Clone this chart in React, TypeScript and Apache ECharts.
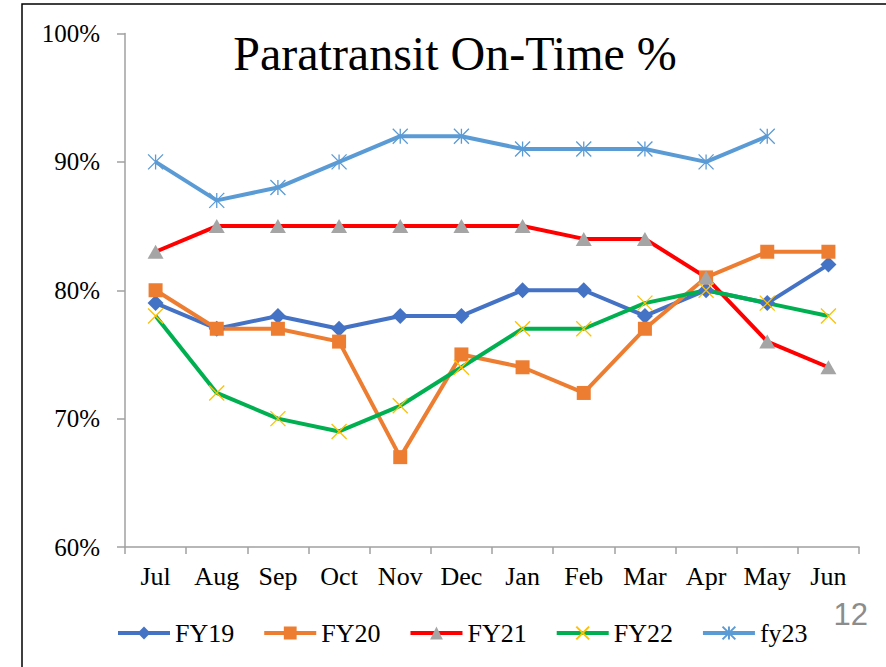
import React, { useEffect, useRef } from "react";
import * as echarts from "echarts";

const months = ["Jul", "Aug", "Sep", "Oct", "Nov", "Dec", "Jan", "Feb", "Mar", "Apr", "May", "Jun"];
const fy19 = [79, 77, 78, 77, 78, 78, 80, 80, 78, 80, 79, 82];
const fy20 = [80, 77, 77, 76, 67, 75, 74, 72, 77, 81, 83, 83];
const fy21 = [83, 85, 85, 85, 85, 85, 85, 84, 84, 81, 76, 74];
const fy22 = [78, 72, 70, 69, 71, 74, 77, 77, 79, 80, 79, 78];
const fy23: (number | null)[] = [90, 87, 88, 90, 92, 92, 91, 91, 91, 90, 92, null];
const yTicks = { min: 60, max: 100, interval: 10 };

const SERIF = "Liberation Serif";

export default function App() {
  const ref = useRef<HTMLDivElement>(null);
  useEffect(() => {
    if (!ref.current) return;
    const chart = echarts.init(ref.current, null, { renderer: "svg" });
    const lw = 4;
    chart.setOption({
      animation: false,
      backgroundColor: "#fff",
      grid: { left: 125, right: 27, top: 33.5, bottom: 120 },
      xAxis: {
        type: "category",
        data: months,
        boundaryGap: true,
        axisLine: { lineStyle: { color: "#a0a0a0", width: 1.5 } },
        axisTick: { show: true, length: 7, lineStyle: { color: "#a0a0a0", width: 1.5 } },
        axisLabel: { color: "#000", fontFamily: SERIF, fontSize: 26, margin: 16, interval: 0 },
      },
      yAxis: {
        type: "value",
        min: yTicks.min,
        max: yTicks.max,
        interval: yTicks.interval,
        axisLine: { show: true, lineStyle: { color: "#a0a0a0", width: 1.5 } },
        axisTick: { show: true, length: 8, lineStyle: { color: "#a0a0a0", width: 1.5 } },
        splitLine: { show: false },
        axisLabel: { color: "#000", fontFamily: SERIF, fontSize: 25, margin: 25, formatter: "{value}%" },
      },
      legend: {
        left: 111,
        top: 615,
        itemWidth: 52,
        itemHeight: 16,
        itemGap: 28,
        lineStyle: { width: 4 },
        textStyle: { color: "#000", fontFamily: SERIF, fontSize: 26 },
        data: ["FY19", "FY20", "FY21", "FY22", "fy23"],
      },
      graphic: [
        {
          type: "polyline",
          shape: { points: [[22, 667], [22, 4], [886, 4]] },
          style: { stroke: "#000", lineWidth: 1.5, fill: "none" },
          silent: true,
        },
        {
          type: "text",
          x: 455,
          y: 53,
          style: { text: "Paratransit On-Time %", fontFamily: SERIF, fontSize: 48, fill: "#000", textAlign: "center", textVerticalAlign: "middle" },
        },
        {
          type: "text",
          x: 868,
          y: 614,
          style: { text: "12", fontFamily: "Liberation Sans", fontSize: 31, fill: "#8c8c8c", textAlign: "right", textVerticalAlign: "middle" },
        },
      ],
      series: [
        {
          name: "FY19", type: "line", data: fy19, symbol: "diamond", symbolSize: 16,
          itemStyle: { color: "#4472C4" }, lineStyle: { color: "#4472C4", width: lw },
        },
        {
          name: "FY20", type: "line", data: fy20, symbol: "rect", symbolSize: 14,
          itemStyle: { color: "#ED7D31" }, lineStyle: { color: "#ED7D31", width: lw },
        },
        {
          name: "FY21", type: "line", data: fy21, symbol: "triangle", symbolSize: [16, 14],
          itemStyle: { color: "#A5A5A5" }, lineStyle: { color: "#FF0000", width: lw },
        },
        {
          name: "FY22", type: "line", data: fy22, symbol: "path://M0 0L10 10M10 0L0 10", symbolSize: 15,
          itemStyle: { color: "#FFC000", borderColor: "#FFC000", borderWidth: 1.3 },
          lineStyle: { color: "#00B050", width: lw },
        },
        {
          name: "fy23", type: "line", data: fy23, symbol: "path://M0 0L10 10M10 0L0 10M5 0L5 10", symbolSize: 15,
          itemStyle: { color: "#5B9BD5", borderColor: "#5B9BD5", borderWidth: 1.3 },
          lineStyle: { color: "#5B9BD5", width: lw },
        },
      ],
    });
    return () => chart.dispose();
  }, []);
  return (
    <div
      ref={ref}
      style={{ position: "absolute", left: 0, top: 0, width: 886, height: 667 }}
    />
  );
}
